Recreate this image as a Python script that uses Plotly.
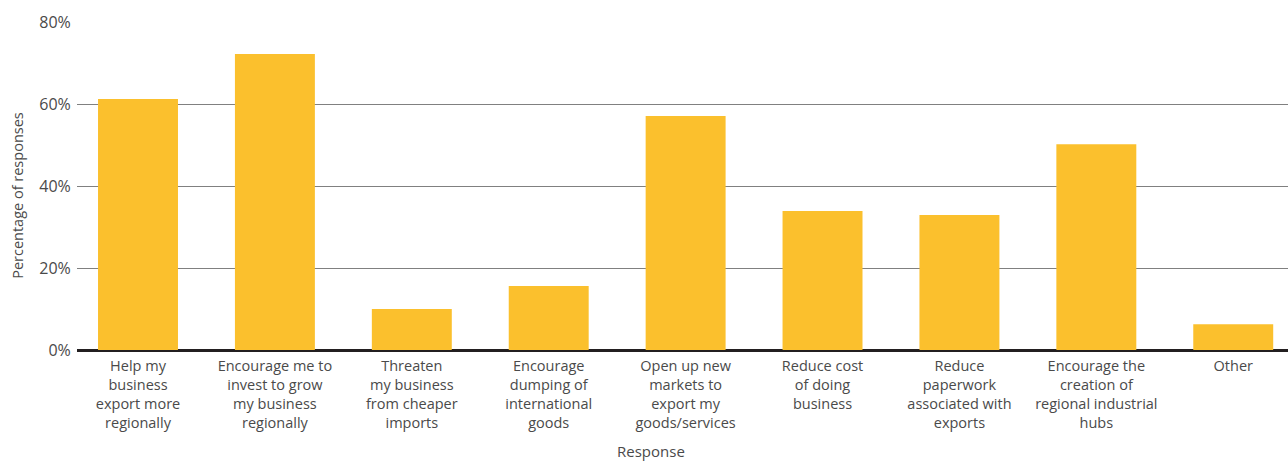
import plotly.graph_objects as go

# Survey responses: share of respondents choosing each expected impact
categories = [
    "Help my<br>business<br>export more<br>regionally",
    "Encourage me to<br>invest to grow<br>my business<br>regionally",
    "Threaten<br>my business<br>from cheaper<br>imports",
    "Encourage<br>dumping of<br>international<br>goods",
    "Open up new<br>markets to<br>export my<br>goods/services",
    "Reduce cost<br>of doing<br>business",
    "Reduce<br>paperwork<br>associated with<br>exports",
    "Encourage the<br>creation of<br>regional industrial<br>hubs",
    "Other",
]
percent_responses = [61.2, 72.2, 10.0, 15.6, 57.1, 33.9, 32.9, 50.2, 6.3]
y_ticks = [0, 20, 40, 60, 80]
y_tick_labels = ["0%", "20%", "40%", "60%", "80%"]

BAR = "#FBC02D"
TEXT = "#4a4a4a"
FONT = "Open Sans"

positions = list(range(len(categories)))

fig = go.Figure(
    go.Bar(
        x=positions,
        y=percent_responses,
        marker=dict(color=BAR, line=dict(width=0)),
        hoverinfo="skip",
    )
)

fig.update_layout(
    width=1288,
    height=463,
    margin=dict(l=77, r=0, t=22, b=113),
    paper_bgcolor="white",
    plot_bgcolor="white",
    bargap=0.416,
    showlegend=False,
    font=dict(family=FONT, color=TEXT, size=14),
    xaxis=dict(
        tickmode="array",
        tickvals=positions,
        ticktext=categories,
        range=[-0.4456, 8.40],
        showgrid=False,
        zeroline=False,
        showline=False,
        ticks="outside",
        ticklen=3,
        tickcolor="rgba(0,0,0,0)",
        tickfont=dict(family=FONT, size=14.5, color=TEXT),
    ),
    yaxis=dict(
        range=[0, 80],
        tickmode="array",
        tickvals=y_ticks,
        ticktext=y_tick_labels,
        showgrid=True,
        gridcolor="#808080",
        gridwidth=1,
        zeroline=True,
        zerolinecolor="#231F20",
        zerolinewidth=2.5,
        showline=False,
        ticks="outside",
        ticklen=2,
        tickcolor="rgba(0,0,0,0)",
        tickfont=dict(family=FONT, size=16, color=TEXT),
    ),
    annotations=[
        dict(
            text="Percentage of responses",
            xref="paper", yref="paper",
            x=(18 - 77) / 1211, y=0.47,
            xanchor="center", yanchor="middle",
            textangle=-90,
            showarrow=False,
            font=dict(family=FONT, size=14.5, color=TEXT),
        ),
        dict(
            text="Response",
            xref="paper", yref="paper",
            x=(651 - 77) / 1211, y=-113 / 328,
            xanchor="center", yanchor="bottom",
            showarrow=False,
            font=dict(family=FONT, size=15, color=TEXT),
        ),
    ],
)

fig.write_html("out.html")
